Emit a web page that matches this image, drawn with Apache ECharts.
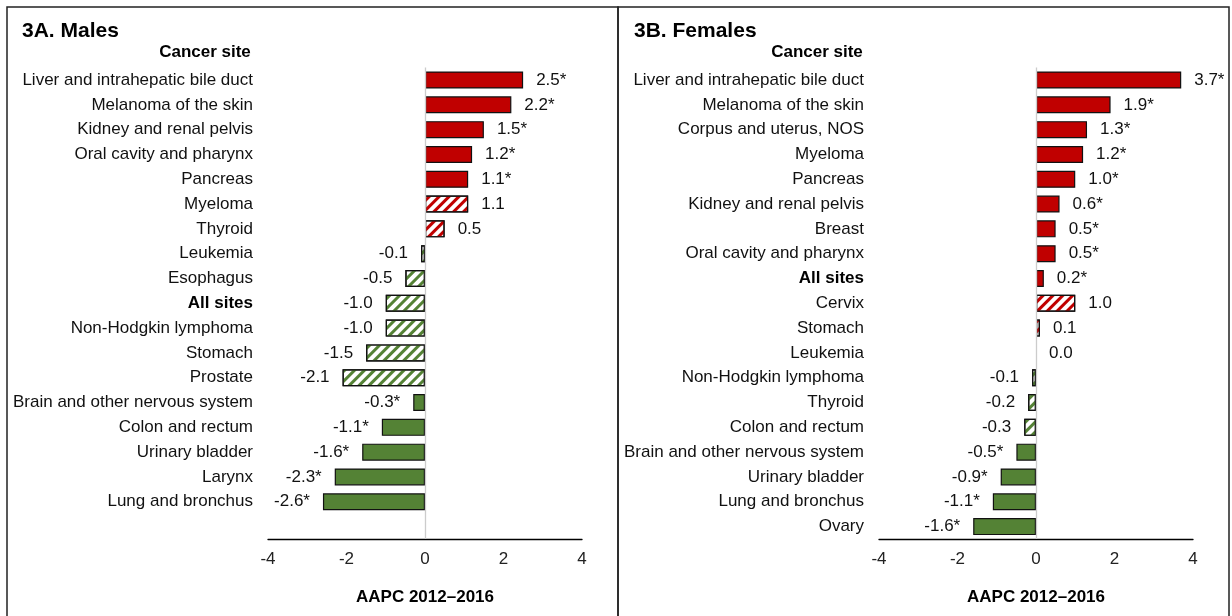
<!DOCTYPE html>
<html>
<head>
<meta charset="utf-8">
<script src="https://cdn.jsdelivr.net/npm/echarts@6/dist/echarts.min.js"></script>
<style>
  html, body { margin: 0; padding: 0; background: #fff; }
  #container { width: 1232px; height: 616px; }
</style>
</head>
<body>
<div id="container"></div>
<script>
var dom = document.getElementById('container');
var myChart = echarts.init(dom, null, { renderer: 'canvas' });

// Males (3A)
var maleSites = [
  'Liver and intrahepatic bile duct', 'Melanoma of the skin', 'Kidney and renal pelvis',
  'Oral cavity and pharynx', 'Pancreas', 'Myeloma', 'Thyroid', 'Leukemia', 'Esophagus',
  'All sites', 'Non-Hodgkin lymphoma', 'Stomach', 'Prostate', 'Brain and other nervous system',
  'Colon and rectum', 'Urinary bladder', 'Larynx', 'Lung and bronchus', ''
];
var maleAapc = [2.5, 2.2, 1.5, 1.2, 1.1, 1.1, 0.5, -0.1, -0.5, -1.0, -1.0, -1.5, -2.1, -0.3, -1.1, -1.6, -2.3, -2.6, null];
var maleSig = [1, 1, 1, 1, 1, 0, 0, 0, 0, 0, 0, 0, 0, 1, 1, 1, 1, 1, 0];

// Females (3B)
var femaleSites = [
  'Liver and intrahepatic bile duct', 'Melanoma of the skin', 'Corpus and uterus, NOS',
  'Myeloma', 'Pancreas', 'Kidney and renal pelvis', 'Breast', 'Oral cavity and pharynx',
  'All sites', 'Cervix', 'Stomach', 'Leukemia', 'Non-Hodgkin lymphoma', 'Thyroid',
  'Colon and rectum', 'Brain and other nervous system', 'Urinary bladder', 'Lung and bronchus', 'Ovary'
];
var femaleAapc = [3.7, 1.9, 1.3, 1.2, 1.0, 0.6, 0.5, 0.5, 0.2, 1.0, 0.1, 0.0, -0.1, -0.2, -0.3, -0.5, -0.9, -1.1, -1.6];
var femaleSig = [1, 1, 1, 1, 1, 1, 1, 1, 1, 0, 0, 0, 0, 0, 0, 1, 1, 1, 1];

var xTicks = { min: -4, max: 4, interval: 2 };
var RED = '#c00000';
var GREEN = '#548235';
var FONT = 'Liberation Sans';
var FS = 17;

function barData(values, sig) {
  return values.map(function (v, i) {
    if (v === null) return null;
    var col = v >= 0 ? RED : GREEN;
    var item = {
      value: v,
      label: { position: v >= 0 ? 'right' : 'left' },
      itemStyle: { color: sig[i] ? col : '#ffffff' }
    };
    if (v === 0) item.itemStyle.borderWidth = 0;
    if (!sig[i]) {
      // not significant: hatched bar
      item.itemStyle.decal = {
        symbol: 'rect',
        color: col,
        dashArrayX: [1, 0],
        dashArrayY: [2.6, 3.2],
        rotation: -Math.PI / 4
      };
    }
    return item;
  });
}

function labelFmt(sig) {
  return function (p) {
    return p.value.toFixed(1) + (sig[p.dataIndex] ? '*' : '');
  };
}

function xAxisFor(idx) {
  return {
    gridIndex: idx,
    type: 'value',
    min: xTicks.min, max: xTicks.max, interval: xTicks.interval,
    axisLine: { show: true, onZero: false, lineStyle: { color: '#000', width: 1.3 } },
    axisTick: { show: false },
    splitLine: { show: false },
    axisLabel: { fontFamily: FONT, fontSize: FS, color: '#222', margin: 12 },
    name: 'AAPC 2012\u20132016',
    nameLocation: 'middle',
    nameGap: 50,
    nameTextStyle: { fontFamily: FONT, fontSize: FS, fontWeight: 'bold', color: '#000' }
  };
}

function yAxisFor(idx, sites) {
  return {
    gridIndex: idx,
    type: 'category',
    inverse: true,
    data: sites,
    axisLine: { show: false },
    axisTick: { show: false },
    axisLabel: {
      fontFamily: FONT, fontSize: FS, color: '#111', margin: 15,
      formatter: function (v) { return v === 'All sites' ? '{b|' + v + '}' : v; },
      rich: { b: { fontFamily: FONT, fontSize: FS, fontWeight: 'bold', color: '#000' } }
    }
  };
}

function seriesFor(idx, values, sig) {
  return {
    type: 'bar',
    xAxisIndex: idx,
    yAxisIndex: idx,
    barWidth: 17,
    data: barData(values, sig),
    itemStyle: { borderColor: '#111', borderWidth: 1.2 },
    label: {
      show: true,
      distance: 13,
      fontFamily: FONT,
      fontSize: FS,
      color: '#111',
      formatter: labelFmt(sig)
    },
    markLine: {
      silent: true,
      symbol: 'none',
      label: { show: false },
      lineStyle: { color: '#cccccc', type: 'solid', width: 1.3 },
      data: [{ xAxis: 0 }]
    }
  };
}

var titleStyle = { fontFamily: FONT, fontSize: 21, fontWeight: 'bold', color: '#000' };
var subStyle = { fontFamily: FONT, fontSize: FS, fontWeight: 'bold', color: '#000' };

var option = {
  animation: false,
  title: [
    { text: '3A. Males', left: 17, top: 16, textStyle: titleStyle },
    { text: 'Cancer site', left: 200, top: 39, textAlign: 'center', textStyle: subStyle },
    { text: '3B. Females', left: 629, top: 16, textStyle: titleStyle },
    { text: 'Cancer site', left: 812, top: 39, textAlign: 'center', textStyle: subStyle }
  ],
  graphic: [
    { type: 'rect', shape: { x: 7, y: 7, width: 611, height: 640 },
      style: { fill: 'none', stroke: '#222', lineWidth: 1.5 }, silent: true },
    { type: 'rect', shape: { x: 618, y: 7, width: 611, height: 640 },
      style: { fill: 'none', stroke: '#222', lineWidth: 1.5 }, silent: true }
  ],
  grid: [
    { left: 268, width: 314, top: 67.6, height: 471.4, containLabel: false },
    { left: 879, width: 314, top: 67.6, height: 471.4, containLabel: false }
  ],
  xAxis: [xAxisFor(0), xAxisFor(1)],
  yAxis: [yAxisFor(0, maleSites), yAxisFor(1, femaleSites)],
  series: [
    seriesFor(0, maleAapc, maleSig),
    seriesFor(1, femaleAapc, femaleSig)
  ]
};

myChart.setOption(option);
window.addEventListener('resize', myChart.resize);
</script>
</body>
</html>
